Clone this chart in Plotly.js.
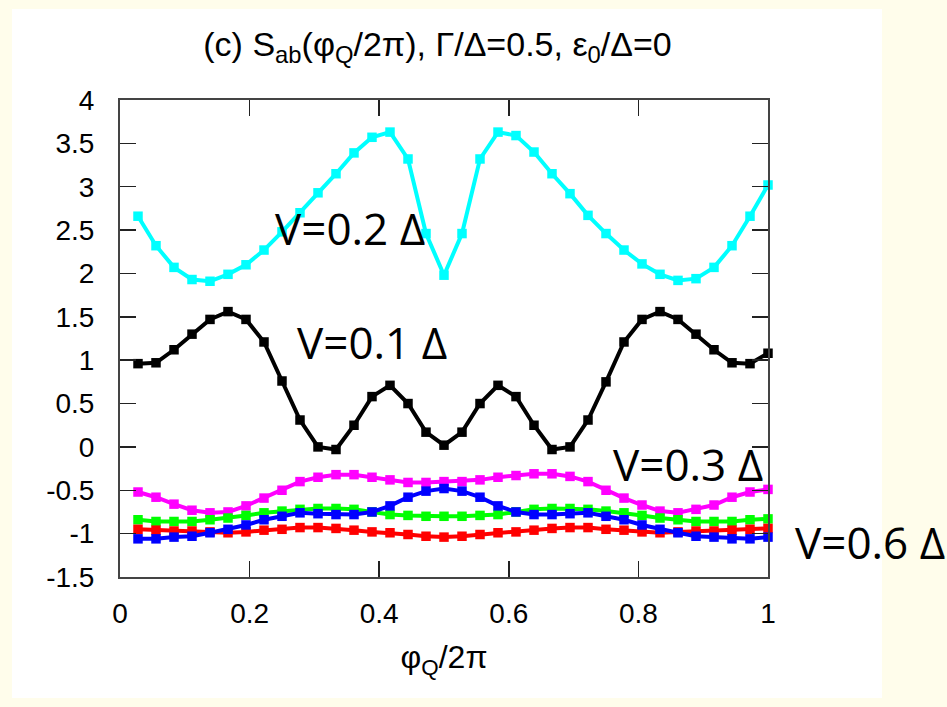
<!DOCTYPE html>
<html>
<head>
<meta charset="utf-8">
<script src="https://cdn.plot.ly/plotly-3.0.1.min.js"></script>
<style>
html,body{margin:0;padding:0;background:#fffdeb;}
#plot{width:947px;height:707px;}
</style>
</head>
<body>
<div id="plot"></div>
<script>
// phase points phi_Q/2pi = k/36, k = 1..36
const phi = [1,2,3,4,5,6,7,8,9,10,11,12,13,14,15,16,17,18,19,20,21,22,23,24,25,26,27,28,29,30,31,32,33,34,35,36].map(k => k/36);

const sV01 = [0.96,0.97,1.12,1.30,1.47,1.56,1.47,1.21,0.76,0.31,0.00,-0.03,0.25,0.58,0.71,0.50,0.17,0.02,
              0.17,0.50,0.71,0.58,0.25,-0.03,0.00,0.31,0.75,1.21,1.47,1.56,1.47,1.30,1.12,0.97,0.96,1.08];
const sV02 = [2.66,2.32,2.07,1.93,1.91,1.99,2.10,2.27,2.48,2.70,2.93,3.15,3.39,3.57,3.63,3.32,2.46,1.98,
              2.46,3.32,3.63,3.59,3.40,3.15,2.92,2.67,2.46,2.27,2.11,1.99,1.92,1.94,2.07,2.32,2.66,3.02];
const sV03 = [-0.52,-0.58,-0.66,-0.73,-0.76,-0.75,-0.68,-0.59,-0.50,-0.40,-0.35,-0.32,-0.32,-0.35,-0.38,-0.41,-0.41,-0.40,
              -0.40,-0.38,-0.35,-0.33,-0.31,-0.31,-0.34,-0.40,-0.50,-0.59,-0.67,-0.74,-0.76,-0.72,-0.67,-0.58,-0.52,-0.49];
const sV04 = [-0.84,-0.86,-0.86,-0.86,-0.84,-0.82,-0.79,-0.76,-0.74,-0.72,-0.71,-0.71,-0.72,-0.75,-0.78,-0.79,-0.80,-0.80,
              -0.80,-0.79,-0.78,-0.75,-0.72,-0.71,-0.71,-0.72,-0.74,-0.76,-0.79,-0.82,-0.84,-0.86,-0.86,-0.86,-0.84,-0.83];
const sV05 = [-0.95,-0.96,-0.97,-0.97,-0.98,-0.99,-0.98,-0.96,-0.95,-0.93,-0.93,-0.94,-0.96,-0.98,-0.99,-1.01,-1.03,-1.04,
              -1.03,-1.01,-0.99,-0.98,-0.96,-0.94,-0.93,-0.93,-0.95,-0.96,-0.98,-0.99,-0.98,-0.97,-0.97,-0.96,-0.95,-0.94];
const sV06 = [-1.06,-1.06,-1.04,-1.03,-0.99,-0.95,-0.90,-0.84,-0.80,-0.76,-0.77,-0.78,-0.78,-0.75,-0.68,-0.58,-0.51,-0.48,
              -0.51,-0.58,-0.68,-0.75,-0.78,-0.78,-0.77,-0.76,-0.80,-0.84,-0.90,-0.95,-0.99,-1.03,-1.04,-1.06,-1.06,-1.04];

const seriesNames = ['V=0.1 Δ','V=0.2 Δ','V=0.3 Δ','V=0.4 Δ','V=0.5 Δ','V=0.6 Δ'];
const seriesColors = ['#000000','#00ffff','#ff00ff','#00ff00','#ff0000','#0000ff'];
const seriesData = [sV01, sV02, sV03, sV04, sV05, sV06];

const xTickVals = [0, 0.2, 0.4, 0.6, 0.8, 1];
const xTickText = ['0', '0.2', '0.4', '0.6', '0.8', '1'];
const yTickVals = [-1.5, -1, -0.5, 0, 0.5, 1, 1.5, 2, 2.5, 3, 3.5, 4];
const yTickText = ['-1.5', '-1', '-0.5', '0', '0.5', '1', '1.5', '2', '2.5', '3', '3.5', '4'];

const labelTexts = ['V=0.2 Δ','V=0.1 Δ','V=0.3 Δ','V=0.6 Δ'];

const traces = seriesData.map((ys, i) => ({
  x: phi, y: ys, type: 'scatter', mode: 'lines+markers', name: seriesNames[i],
  line: {color: seriesColors[i], width: 4},
  marker: {symbol: 'square', size: 9.5, color: seriesColors[i]},
  showlegend: false, cliponaxis: false
}));

const helv = '"Liberation Sans", Arial, Helvetica, sans-serif';
const tickFont = {family: helv, size: 28, color: '#000'};
const titleFont = {family: helv, size: 34, color: '#000'};
const axTitleFont = {family: helv, size: 32, color: '#000'};
const labFont = {family: '"Open Sans", "Noto Sans", sans-serif', size: 44, color: '#000'};

function px2x(p){ return (p-120)/648; }
function py2y(p){ return (577-p)/477; }

const annos = [
  {text: labelTexts[0], x: px2x(350), y: py2y(228)},
  {text: labelTexts[1], x: px2x(372), y: py2y(342)},
  {text: labelTexts[2], x: px2x(688), y: py2y(464)},
  {text: labelTexts[3], x: px2x(870), y: py2y(542)}
].map(a => Object.assign(a, {xref:'paper', yref:'paper', showarrow:false, xanchor:'center', yanchor:'middle', font: labFont}));

const layout = {
  width: 947, height: 707,
  margin: {l:120, r:179, t:100, b:130},
  paper_bgcolor: '#fffdeb',
  plot_bgcolor: '#ffffff',
  title: {text: '(c) S<sub>ab</sub>(φ<sub>Q</sub>/2π), Γ/Δ=0.5, ε<sub>0</sub>/Δ=0', font: titleFont, x: 0.462, xanchor: 'center', y: 0.938, yanchor: 'middle'},
  xaxis: {range:[0,1], tickmode:'array', tickvals:xTickVals, ticktext:xTickText, ticks:'inside', ticklen:16, tickwidth:1.5, tickcolor:'#222',
          showline:true, linecolor:'#444', linewidth:2, mirror:'allticks', showgrid:false, zeroline:false,
          tickfont: tickFont, ticklabelstandoff: 10,
          title: {text:'φ<sub>Q</sub>/2π', font: axTitleFont, standoff: 18}},
  yaxis: {range:[-1.5,4], tickmode:'array', tickvals:yTickVals, ticktext:yTickText, ticks:'inside', ticklen:16, tickwidth:1.5, tickcolor:'#222',
          showline:true, linecolor:'#444', linewidth:2, mirror:'allticks', showgrid:false, zeroline:false,
          tickfont: tickFont, ticklabelstandoff: 18},
  shapes: [{type:'rect', xref:'paper', yref:'paper', x0:(12-120)/648, x1:(882-120)/648, y0:(577-698)/477, y1:(577-9)/477,
            fillcolor:'#ffffff', line:{width:0}, layer:'below'}],
  annotations: annos,
  showlegend: false
};

Plotly.newPlot('plot', traces, layout, {displayModeBar:false, staticPlot:true});
</script>
</body>
</html>
